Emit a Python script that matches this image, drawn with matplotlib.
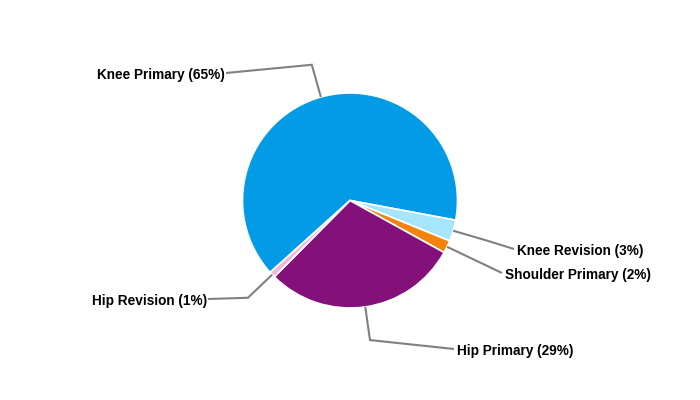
import numpy as np
import matplotlib
matplotlib.use("Agg")
import matplotlib.pyplot as plt

categories = ["Knee Primary", "Knee Revision", "Shoulder Primary", "Hip Primary", "Hip Revision"]
values = [64.6, 3.2, 1.9, 29.4, 0.9]
colors = ["#039BE5", "#A6E6FC", "#F4820D", "#84107A", "#F3B4E2"]

# layout (pixel coords, y downwards) for label text anchors
label_pos = [(227, 73), (516, 249), (504, 273), (456, 349), (209, 299)]
label_ha = ["right", "left", "left", "left", "right"]

W, H = 700, 400
fig = plt.figure(figsize=(7, 4), dpi=100)
ax = fig.add_axes([0, 0, 1, 1])
ax.set_xlim(0, W)
ax.set_ylim(0, H)
ax.set_aspect("equal")
ax.axis("off")

cx, cy, R = 350, H - 200.5, 107.5
wedges, _ = ax.pie(values, colors=colors, startangle=222, counterclock=False,
                   center=(cx, cy), radius=R, frame=True,
                   wedgeprops=dict(edgecolor="white", linewidth=1.2))
ax.set_xlim(0, W)
ax.set_ylim(0, H)
ax.axis("off")

total = sum(values)
for w, cat, v, (lx, ly), ha in zip(wedges, categories, values, label_pos, label_ha):
    mid = np.deg2rad((w.theta1 + w.theta2) / 2)
    p0 = (cx + R * np.cos(mid), cy + R * np.sin(mid))
    p1 = (cx + 141 * np.cos(mid), cy + 141 * np.sin(mid))
    tx = lx + (-1 if ha == "right" else -2)
    ty = H - ly
    ax.plot([p0[0], p1[0], tx], [p0[1], p1[1], ty], color="#808080", lw=1.5,
            solid_capstyle="butt", solid_joinstyle="miter")
    ax.text(lx + (-2 if ha == "right" else 1), ty - 1.5, f"{cat} ({round(v / total * 100):.0f}%)",
            ha=ha, va="center", fontsize=9.8, fontweight="bold",
            family="Liberation Sans", color="#000000")

fig.savefig("out.png", dpi=100)
